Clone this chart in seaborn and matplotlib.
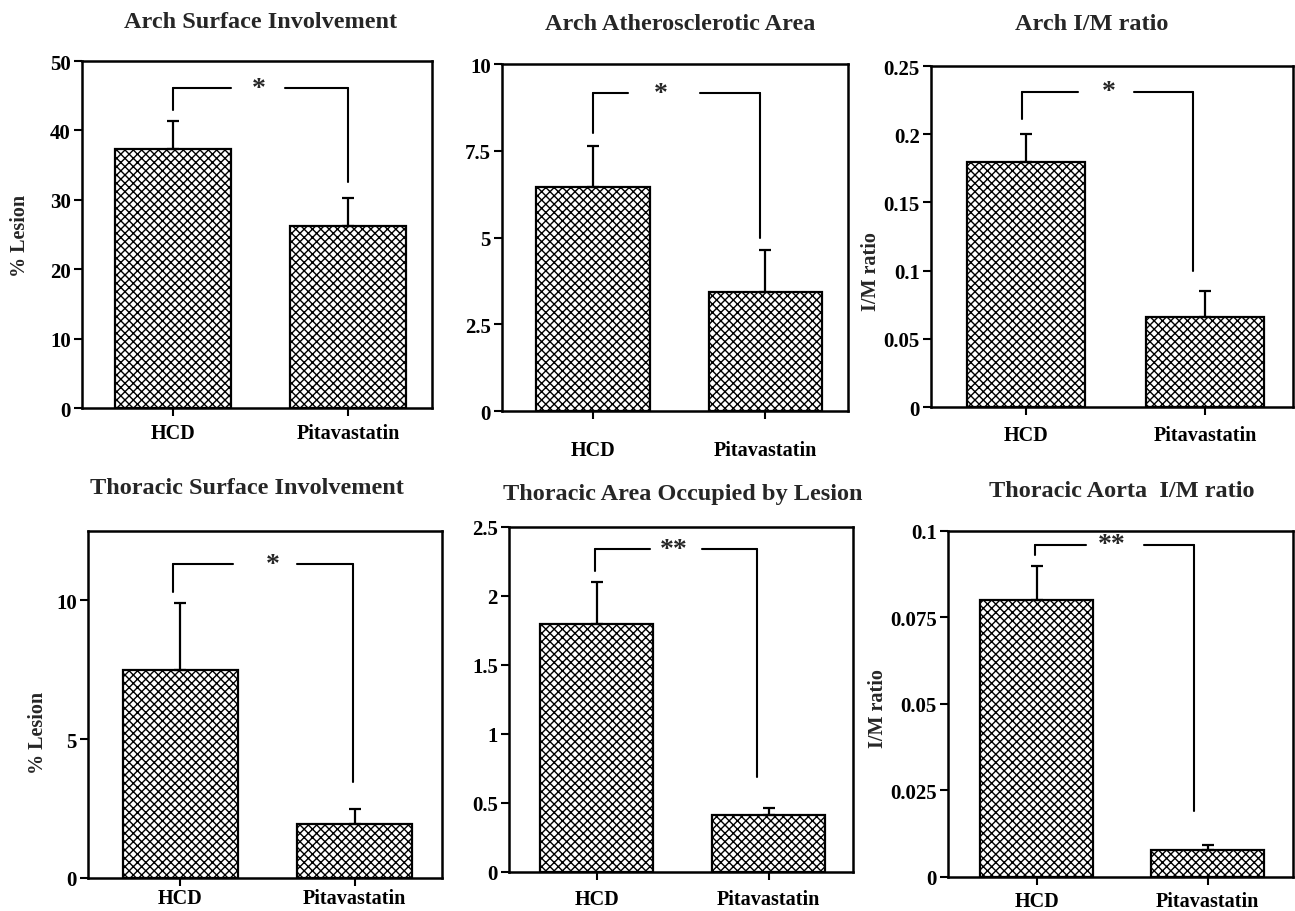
import numpy as np
import pandas as pd
import matplotlib
matplotlib.use("Agg")
import matplotlib.pyplot as plt
import seaborn as sns

# ---------------- data ----------------
groups = ["HCD", "Pitavastatin"]

titles = ["Arch Surface Involvement", "Arch Atherosclerotic Area", "Arch I/M ratio",
          "Thoracic Surface Involvement", "Thoracic Area Occupied by Lesion",
          "Thoracic Aorta  I/M ratio"]
ylabels = ["% Lesion", "", "I/M ratio", "% Lesion", "", "I/M ratio"]

arch_surface_mean = [37.3, 26.2]
arch_surface_err = [4.1, 4.1]
arch_area_mean = [6.45, 3.43]
arch_area_err = [1.2, 1.2]
arch_im_mean = [0.180, 0.066]
arch_im_err = [0.020, 0.019]
thor_surface_mean = [7.5, 1.95]
thor_surface_err = [2.4, 0.55]
thor_area_mean = [1.80, 0.41]
thor_area_err = [0.30, 0.05]
thor_im_mean = [0.080, 0.0078]
thor_im_err = [0.010, 0.0015]

means = [arch_surface_mean, arch_area_mean, arch_im_mean,
         thor_surface_mean, thor_area_mean, thor_im_mean]
errs = [arch_surface_err, arch_area_err, arch_im_err,
        thor_surface_err, thor_area_err, thor_im_err]

y_max = [50, 10, 0.25, 12.5, 2.5, 0.1]
y_ticks = [[0, 10, 20, 30, 40, 50],
           [0, 2.5, 5, 7.5, 10],
           [0, 0.05, 0.1, 0.15, 0.2, 0.25],
           [0, 5, 10],
           [0, 0.5, 1, 1.5, 2, 2.5],
           [0, 0.025, 0.05, 0.075, 0.1]]
y_ticklabels = [["0", "10", "20", "30", "40", "50"],
                ["0", "2.5", "5", "7.5", "10"],
                ["0", "0.05", "0.1", "0.15", "0.2", "0.25"],
                ["0", "5", "10"],
                ["0", "0.5", "1", "1.5", "2", "2.5"],
                ["0", "0.025", "0.05", "0.075", "0.1"]]

sig_labels = ["*", "*", "*", "*", "**", "**"]
bracket_top = [46.1, 9.16, 0.231, 11.3, 2.34, 0.096]
bracket_left_end = [42.9, 8.0, 0.211, 10.3, 2.18, 0.093]
bracket_right_end = [32.6, 5.0, 0.100, 3.47, 0.69, 0.019]

# ---------------- layout ----------------
W, H = 1295, 912
axes_rects = [(0.0633, 0.5515, 0.2703, 0.3805),
              (0.3876, 0.5482, 0.2672, 0.3805),
              (0.7189, 0.5526, 0.2796, 0.3739),
              (0.0680, 0.0362, 0.2733, 0.3805),
              (0.3930, 0.0428, 0.2657, 0.3783),
              (0.7320, 0.0373, 0.2665, 0.3794)]
xlims = [(-0.52, 1.48), (-0.53, 1.48), (-0.53, 1.49),
         (-0.53, 1.50), (-0.51, 1.49), (-0.52, 1.50)]
title_pos = [(261, 22), (680, 25), (1092, 25), (247, 489), (683, 495), (1122, 492)]
# bracket geometry: left leg x, right leg x, gap start, gap end, star x
bracket_x = [(0.0, 1.0, 0.33, 0.64, 0.49),
             (0.0, 0.97, 0.20, 0.62, 0.39),
             (-0.02, 0.93, 0.29, 0.60, 0.46),
             (-0.04, 0.99, 0.30, 0.67, 0.53),
             (-0.01, 0.93, 0.31, 0.61, 0.45),
             (-0.01, 0.92, 0.29, 0.63, 0.44)]
ylabel_coords = [(-0.149, 0.5), None, (-0.138, 0.40), (-0.113, 0.42), None, (-0.174, 0.49)]
xtick_pad = [4.5, 15, 7, 1.5, 6, 4]

sns.set_style("white")
plt.rcParams["font.family"] = ["Liberation Serif", "DejaVu Serif"]
plt.rcParams["font.weight"] = "bold"
plt.rcParams["hatch.color"] = "#1a1a1a"
plt.rcParams["hatch.linewidth"] = 1.0

fig = plt.figure(figsize=(W / 100, H / 100), dpi=100)
fig.patch.set_facecolor("white")

for i in range(6):
    ax = fig.add_axes(axes_rects[i])
    df = pd.DataFrame({"group": groups, "value": means[i]})
    sns.barplot(data=df, x="group", y="value", ax=ax, color="#ffffff",
                width=0.66, edgecolor="black", linewidth=1.6, errorbar=None,
                saturation=1)
    for p in ax.patches:
        p.set_hatch("xxxx")
    ax.errorbar(x=[0, 1], y=means[i], yerr=[[0, 0], errs[i]], fmt="none",
                ecolor="black", elinewidth=1.6, capsize=4.5, capthick=1.6, zorder=5)

    # significance bracket
    lx, rx, g0, g1, sx = bracket_x[i]
    yt = bracket_top[i]
    lw = 1.5
    ax.plot([lx, lx], [bracket_left_end[i], yt], color="black", lw=lw)
    ax.plot([lx, g0], [yt, yt], color="black", lw=lw)
    ax.plot([g1, rx], [yt, yt], color="black", lw=lw)
    ax.plot([rx, rx], [yt, bracket_right_end[i]], color="black", lw=lw)
    ax.text(sx, yt, sig_labels[i], ha="center", va="center", fontsize=20,
            fontweight="bold")

    ax.set_xlim(*xlims[i])
    ax.set_ylim(0, y_max[i])
    ax.set_yticks(y_ticks[i])
    ax.set_yticklabels(y_ticklabels[i], fontsize=15, fontweight="bold")
    ax.set_xticks([0, 1])
    ax.set_xticklabels(groups, fontsize=14.5, fontweight="bold")
    ax.set_xlabel("")
    ax.set_ylabel(ylabels[i], fontsize=14.5, fontweight="bold")
    if ylabel_coords[i] is not None:
        ax.yaxis.set_label_coords(*ylabel_coords[i])
    ax.tick_params(axis="y", direction="out", length=6, width=1.5, pad=2,
                   left=True, colors="black")
    ax.tick_params(axis="x", direction="out", length=6, width=1.5,
                   pad=xtick_pad[i], bottom=True, colors="black")
    for s in ax.spines.values():
        s.set_visible(True)
        s.set_color("black")
        s.set_linewidth(1.8)

    tx, ty = title_pos[i]
    fig.text(tx / W, 1 - ty / H, titles[i], ha="center", va="center",
             fontsize=17.5, fontweight="bold")

fig.savefig("out.png", dpi=100)
